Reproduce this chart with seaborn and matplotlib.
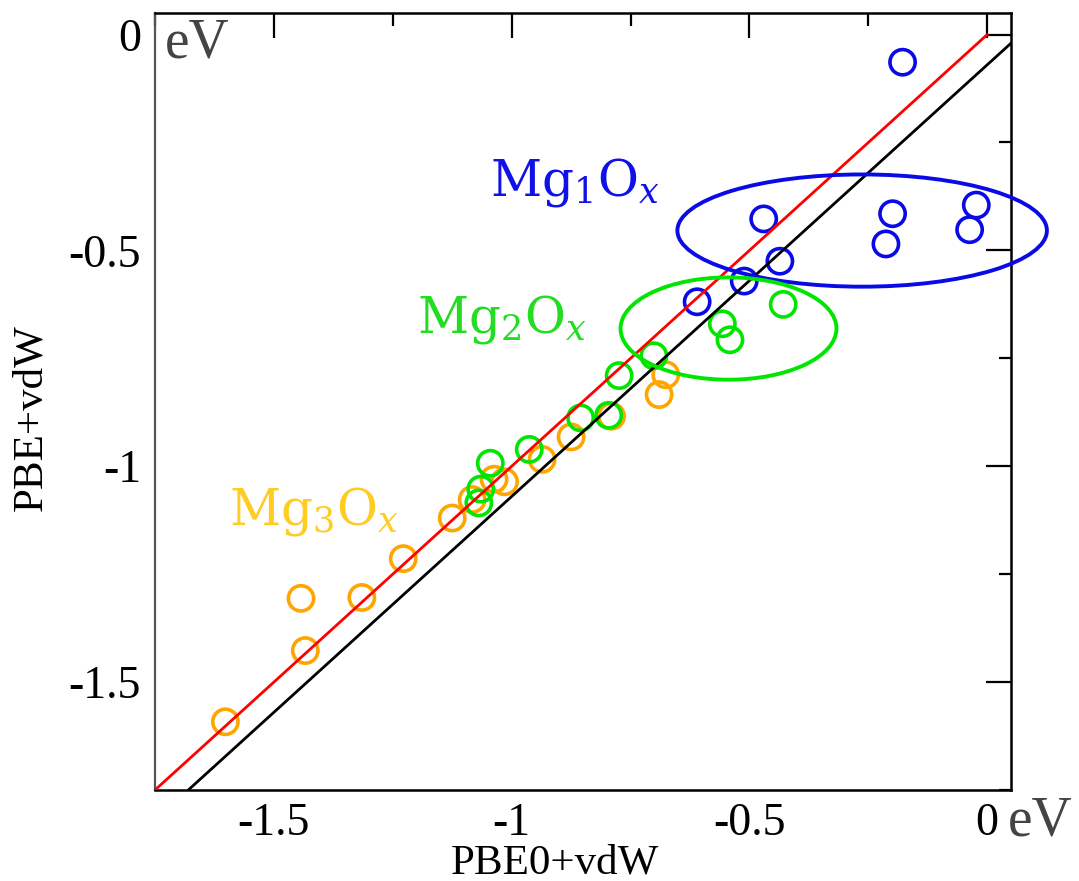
import numpy as np
import pandas as pd
import matplotlib
matplotlib.use('Agg')
import matplotlib.pyplot as plt
from matplotlib.patches import Ellipse
from matplotlib.ticker import MultipleLocator
import seaborn as sns

# ---------------- data ----------------
mg1_x = [-0.178, -0.470, -0.436, -0.511, -0.610, -0.199, -0.213, -0.023, -0.037]
mg1_y = [-0.064, -0.427, -0.525, -0.571, -0.619, -0.415, -0.485, -0.395, -0.452]

mg2_x = [-0.429, -0.557, -0.541, -0.701, -0.774, -0.855, -0.796, -0.963, -1.045, -1.065, -1.069]
mg2_y = [-0.625, -0.670, -0.707, -0.744, -0.790, -0.888, -0.882, -0.961, -0.993, -1.053, -1.085]

mg3_x = [-0.676, -0.690, -0.790, -0.875, -0.936, -1.015, -1.037, -1.083, -1.125, -1.228,
         -1.315, -1.443, -1.434, -1.602]
mg3_y = [-0.788, -0.834, -0.884, -0.932, -0.984, -1.036, -1.030, -1.077, -1.120, -1.214,
         -1.304, -1.306, -1.427, -1.592]

red_x = [-1.75, 0.0]
red_y = [-1.75, 0.0]
black_x = [-1.68, 0.05]
black_y = [-1.75, -0.02]

tick_values = [-1.5, -1.0, -0.5, 0.0]
tick_labels = ['-1.5', '-1', '-0.5', '0']

group_labels = [r'Mg$_1$O$_x$', r'Mg$_2$O$_x$', r'Mg$_3$O$_x$']
x_label = 'PBE0+vdW'
y_label = 'PBE+vdW'
unit = 'eV'

# ---------------- style ----------------
sns.set_theme(style='white')
plt.rcParams['font.family'] = ['Liberation Serif', 'DejaVu Serif']
plt.rcParams['mathtext.fontset'] = 'dejavuserif'

BLUE = '#0a0ae6'
GREEN = '#00e600'
ORANGE = '#ffa500'
LBL_BLUE = '#1010e8'
LBL_GREEN = '#22dd22'
LBL_GOLD = '#ffcc22'

fig = plt.figure(figsize=(10.79, 8.81), dpi=100)
ax = fig.add_axes([155/1079, 1 - 790/881, (1011 - 155)/1079, (790 - 13)/881])

groups = [(mg3_x, mg3_y, ORANGE), (mg2_x, mg2_y, GREEN), (mg1_x, mg1_y, BLUE)]
for xs, ys, col in groups:
    df = pd.DataFrame({'x': xs, 'y': ys})
    sns.scatterplot(data=df, x='x', y='y', ax=ax, marker='o', s=330,
                    color=col, facecolors='none', edgecolor=col, linewidth=2.6,
                    zorder=3, legend=False)
for coll in ax.collections:
    coll.set_facecolor('none')

sns.lineplot(x=red_x, y=red_y, ax=ax, color='#ff0000', lw=2.0, sort=False, zorder=4)
sns.lineplot(x=black_x, y=black_y, ax=ax, color='black', lw=2.0, sort=False, zorder=4)

ax.add_patch(Ellipse((-0.263, -0.454), 0.777, 0.26, fill=False, ec=BLUE, lw=2.8,
                     zorder=5, clip_on=False))
ax.add_patch(Ellipse((-0.544, -0.681), 0.454, 0.237, fill=False, ec=GREEN, lw=2.8,
                     zorder=5, clip_on=False))

ax.text(-1.045, -0.373, group_labels[0], color=LBL_BLUE, fontsize=36,
        family='DejaVu Serif', ha='left', va='baseline')
ax.text(-1.200, -0.689, group_labels[1], color=LBL_GREEN, fontsize=36,
        family='DejaVu Serif', ha='left', va='baseline')
ax.text(-1.595, -1.134, group_labels[2], color=LBL_GOLD, fontsize=36,
        family='DejaVu Serif', ha='left', va='baseline')

ax.set_xlim(-1.75, 0.05)
ax.set_ylim(-1.75, 0.05)
ax.set_xticks(tick_values)
ax.set_xticklabels(tick_labels)
ax.set_yticks(tick_values)
ax.set_yticklabels(tick_labels)
ax.xaxis.set_minor_locator(MultipleLocator(0.25))
ax.yaxis.set_minor_locator(MultipleLocator(0.25))
ax.tick_params(which='both', direction='in', top=True, right=True,
               labelsize=33, colors='black', width=1.6)
ax.tick_params(which='major', length=18)
ax.tick_params(which='minor', length=9)
ax.tick_params(axis='x', pad=9)
ax.tick_params(axis='y', pad=10)

for side in ['top', 'right', 'bottom']:
    ax.spines[side].set_color('black')
    ax.spines[side].set_linewidth(1.8)
ax.spines['left'].set_color('#555555')
ax.spines['left'].set_linewidth(1.6)

ax.set_xlabel(x_label, fontsize=31, color='black')
ax.set_ylabel(y_label, fontsize=31, color='black')
ax.xaxis.set_label_coords(0.467, -0.070)
ax.yaxis.set_label_coords(-0.122, 0.479)

fig.text(165/1079, 1 - 57/881, unit, fontsize=40, color='#444444', ha='left', va='baseline')
fig.text(1008/1079, 1 - 836/881, unit, fontsize=40, color='#444444', ha='left', va='baseline')

fig.savefig('out.png', dpi=100)
